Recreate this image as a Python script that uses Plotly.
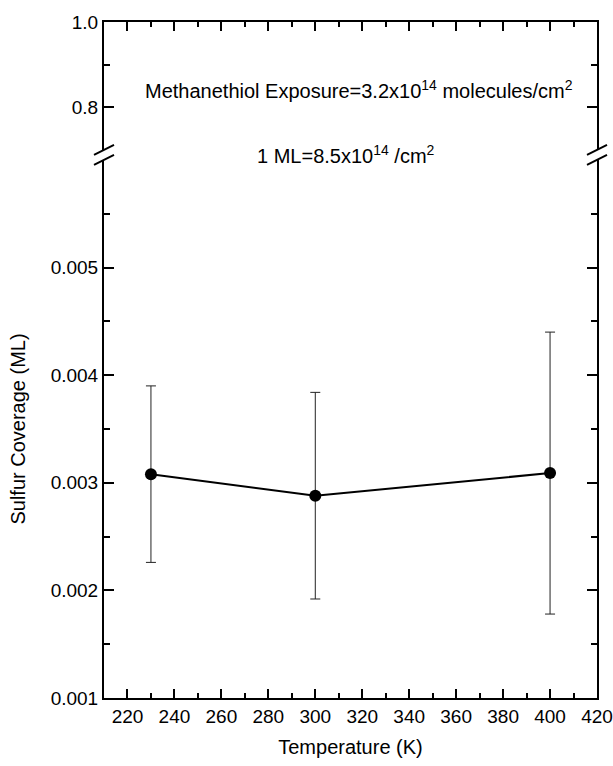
import plotly.graph_objects as go

# ---- data ----
temperature = [230, 300, 400]
coverage = [0.00308, 0.00288, 0.00309]
coverage_err = [0.00082, 0.00096, 0.00131]

x_ticks = [220, 240, 260, 280, 300, 320, 340, 360, 380, 400, 420]
y_low_ticks = [0.001, 0.002, 0.003, 0.004, 0.005]
y_low_minor = [0.0015, 0.0025, 0.0035, 0.0045, 0.0055]
y_high_ticks = [0.8, 1.0]
y_high_ticktext = ["0.8", "1.0"]
y_high_minor = [0.9]

FONT = "Liberation Sans, Arial, sans-serif"
LOW_TOP = 0.796
HIGH_BOTTOM = 0.8107

fig = go.Figure()
fig.add_trace(go.Scatter(
    x=temperature, y=coverage, mode="lines+markers",
    line=dict(color="black", width=2),
    marker=dict(color="black", size=12),
    error_y=dict(type="data", array=coverage_err, visible=True,
                 color="#222222", thickness=1, width=5),
    xaxis="x", yaxis="y", showlegend=False,
))
# empty trace so the upper (broken) panel is drawn
fig.add_trace(go.Scatter(x=[None], y=[None], mode="markers",
                         xaxis="x2", yaxis="y2", showlegend=False,
                         hoverinfo="skip"))

axis_common = dict(showline=True, linecolor="black", linewidth=2,
                   showgrid=False, zeroline=False, ticks="inside",
                   tickcolor="black", tickwidth=2, automargin=False,
                   tickfont=dict(family=FONT, size=19, color="black"))

minor_x = dict(ticks="inside", dtick=10, tick0=0, ticklen=5,
               tickwidth=2, tickcolor="black")

fig.update_layout(
    width=613, height=766,
    margin=dict(l=104, r=16, t=22, b=68),
    paper_bgcolor="white", plot_bgcolor="white",
    font=dict(family=FONT, size=19, color="black"),
    xaxis=dict(**axis_common, domain=[0, 1], anchor="y", range=[210, 420],
               tickvals=x_ticks, ticklen=9, minor=minor_x,
               title=dict(text="Temperature (K)", standoff=14,
                          font=dict(family=FONT, size=20))),
    xaxis2=dict(**axis_common, domain=[0, 1], anchor="y2", range=[210, 420],
                side="top", tickvals=x_ticks, ticklen=9, showticklabels=False,
                minor=minor_x),
    yaxis=dict(**axis_common, domain=[0, LOW_TOP], anchor="x",
               range=[0.001, 0.006], tickvals=y_low_ticks,
               tickformat=".3f", ticklen=10, mirror="ticks",
               minor=dict(ticks="inside", tickvals=y_low_minor, ticklen=6,
                          tickwidth=2, tickcolor="black"),
               title=dict(text="Sulfur Coverage (ML)", standoff=20,
                          font=dict(family=FONT, size=20))),
    yaxis2=dict(**axis_common, domain=[HIGH_BOTTOM, 1], anchor="x2",
                range=[0.7, 1.0], tickvals=y_high_ticks,
                ticktext=y_high_ticktext, ticklen=10, mirror="ticks",
                minor=dict(ticks="inside", tickvals=y_high_minor, ticklen=6,
                           tickwidth=2, tickcolor="black")),
)

# axis break marks
shapes = []
for xa in (0, 1):
    for ya in (HIGH_BOTTOM, LOW_TOP):
        shapes.append(dict(type="line", xref="paper", yref="paper",
                           xsizemode="pixel", ysizemode="pixel",
                           xanchor=xa, yanchor=ya,
                           x0=-10, x1=10, y0=-5, y1=5,
                           line=dict(color="black", width=2)))
fig.update_layout(shapes=shapes)

fig.add_annotation(xref="paper", yref="paper", x=0.517, y=0.921,
                   text="Methanethiol Exposure=3.2x10<sup>14</sup> molecules/cm<sup>2</sup>",
                   showarrow=False, font=dict(family=FONT, size=20, color="black"))
fig.add_annotation(xref="paper", yref="paper", x=0.491, y=0.825,
                   text="1 ML=8.5x10<sup>14</sup> /cm<sup>2</sup>",
                   showarrow=False, font=dict(family=FONT, size=20, color="black"))

fig.write_html("out.html",
               config={"displayModeBar": False},
               post_script="document.body.style.margin='0';"
                           "document.body.style.overflow='hidden';")
